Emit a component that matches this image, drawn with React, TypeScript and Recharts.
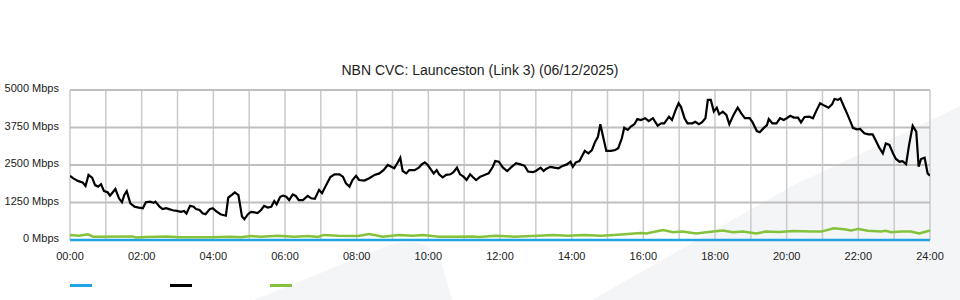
import { LineChart, Line, XAxis, YAxis, CartesianGrid } from 'recharts'

const title = 'NBN CVC: Launceston (Link 3) (06/12/2025)'

// minutes since midnight, gridline every hour, label every second hour
const hourTicks = [0, 60, 120, 180, 240, 300, 360, 420, 480, 540, 600, 660, 720, 780, 840, 900, 960, 1020, 1080, 1140, 1200, 1260, 1320, 1380, 1440]
const yTicks = [0, 1250, 2500, 3750, 5000]

// [minute, Mbps]
const downstream: [number, number][] = [
  [0, 2140], [5, 2060], [13, 1970], [21, 1920], [26, 1800], [31, 2170], [37, 2080], [42, 1830], [47, 1780], [52, 1860],
  [57, 1630], [63, 1590], [67, 1480], [76, 1700], [82, 1390], [87, 1260], [91, 1500], [95, 1630], [101, 1220], [108, 1110],
  [115, 1080], [122, 1060], [127, 1260], [134, 1280], [140, 1240], [143, 1280], [150, 1110], [155, 1030], [161, 1060], [166, 1030],
  [172, 990], [179, 970], [186, 940], [191, 970], [195, 880], [201, 1140], [207, 1110], [211, 1030], [217, 1000], [222, 890],
  [227, 860], [234, 1030], [239, 1060], [244, 970], [252, 860], [261, 810], [265, 1410], [272, 1520], [276, 1590], [282, 1500],
  [288, 780], [292, 690], [298, 860], [303, 940], [309, 920], [314, 900], [320, 1000], [325, 1140], [331, 1080], [337, 1110],
  [342, 1300], [346, 1190], [352, 1440], [357, 1480], [362, 1440], [367, 1330], [373, 1520], [378, 1470], [383, 1330], [390, 1330],
  [398, 1470], [404, 1390], [410, 1370], [417, 1670], [422, 1560], [429, 1830], [436, 2100], [443, 2190], [451, 2190], [457, 2110],
  [462, 1890], [468, 1780], [473, 2000], [479, 2140], [484, 2000], [493, 1980], [501, 2060], [510, 2170], [518, 2220], [525, 2330],
  [532, 2500], [538, 2440], [543, 2390], [548, 2560], [553, 2740], [557, 2300], [563, 2220], [568, 2330], [577, 2330], [584, 2410],
  [589, 2520], [594, 2590], [599, 2500], [605, 2330], [609, 2220], [614, 2330], [618, 2190], [624, 2090], [630, 2170], [637, 2190],
  [642, 2260], [648, 2410], [653, 2190], [659, 2110], [664, 2000], [670, 2190], [674, 2110], [680, 2000], [687, 2110], [694, 2170],
  [701, 2220], [708, 2440], [712, 2630], [718, 2610], [725, 2410], [732, 2300], [738, 2410], [747, 2560], [754, 2520], [761, 2480],
  [767, 2280], [775, 2260], [780, 2300], [788, 2410], [793, 2300], [797, 2370], [804, 2440], [811, 2410], [818, 2390], [825, 2470],
  [832, 2520], [838, 2610], [842, 2440], [847, 2590], [853, 2630], [857, 2780], [862, 2970], [868, 2890], [874, 3000], [879, 3260],
  [884, 3440], [888, 3860], [892, 3500], [898, 2970], [906, 2970], [913, 3000], [918, 3060], [924, 3390], [928, 3740], [934, 3670],
  [939, 3780], [945, 3860], [950, 4030], [956, 4000], [963, 4060], [969, 3960], [976, 4060], [984, 3810], [990, 3890], [995, 3890],
  [1003, 4110], [1008, 4000], [1014, 4330], [1019, 4560], [1023, 4440], [1029, 4060], [1034, 3890], [1042, 3890], [1047, 3940], [1053, 3860],
  [1058, 3920], [1064, 4060], [1068, 4670], [1073, 4670], [1078, 4280], [1083, 4410], [1087, 4190], [1093, 4280], [1099, 4170], [1104, 3860],
  [1111, 4170], [1118, 4410], [1124, 4220], [1130, 4060], [1138, 4060], [1143, 3920], [1150, 3630], [1155, 3590], [1161, 3720], [1167, 3830],
  [1170, 4030], [1176, 3890], [1183, 3890], [1189, 4060], [1195, 4000], [1200, 4060], [1206, 4140], [1212, 4080], [1219, 4080], [1224, 3920],
  [1230, 4100], [1238, 4110], [1244, 4060], [1249, 4280], [1256, 4560], [1263, 4480], [1270, 4410], [1276, 4520], [1280, 4700], [1286, 4670],
  [1290, 4720], [1296, 4440], [1301, 4220], [1307, 3940], [1311, 3740], [1317, 3690], [1323, 3700], [1330, 3560], [1337, 3520], [1344, 3520],
  [1350, 3280], [1355, 3080], [1361, 2890], [1366, 3220], [1372, 3170], [1378, 2890], [1383, 2700], [1389, 2610], [1394, 2630], [1400, 2530],
  [1405, 3170], [1411, 3810], [1417, 3610], [1421, 2440], [1425, 2700], [1431, 2740], [1436, 2220], [1440, 2140],
]

const upstream: [number, number][] = [
  [0, 170], [15, 145], [30, 190], [39, 110], [105, 120], [110, 80], [127, 100], [161, 120], [186, 90], [236, 90],
  [270, 110], [286, 90], [303, 130], [320, 110], [348, 145], [375, 110], [399, 135], [415, 100], [425, 170], [449, 145],
  [482, 135], [501, 200], [524, 110], [551, 170], [574, 145], [591, 170], [618, 110], [646, 110], [675, 120], [685, 100],
  [713, 145], [743, 110], [784, 145], [809, 170], [834, 145], [861, 170], [889, 145], [911, 170], [934, 200], [956, 230],
  [965, 220], [993, 330], [1010, 260], [1026, 280], [1048, 220], [1077, 280], [1093, 320], [1110, 260], [1127, 280], [1149, 220],
  [1165, 280], [1187, 270], [1211, 300], [1241, 280], [1258, 280], [1279, 390], [1296, 360], [1308, 320], [1320, 370], [1336, 310],
  [1358, 280], [1366, 310], [1375, 260], [1392, 280], [1408, 280], [1422, 220], [1437, 300], [1440, 310],
]

const overflow: [number, number][] = [
  [0, 0], [360, 0], [720, 0], [1080, 0], [1440, 0],
]

const series = [
  { name: 'Overflow', color: '#1fa3e2', width: 2.5, points: overflow },
  { name: 'Downstream', color: '#000000', width: 2.2, points: downstream },
  { name: 'Upstream', color: '#84c23b', width: 2.5, points: upstream },
]

const toRows = (pts: [number, number][]) => pts.map(([t, v]) => ({ t, v }))

const hourLabel = (t: number) => {
  if (t % 120 !== 0) return ''
  const h = t / 60
  return `${h < 10 ? '0' : ''}${h}:00`
}

const font = '"Liberation Sans", Arial, sans-serif'

const YTick = (props: any) => {
  const { x, y, payload } = props
  return (
    <text x={x - 1} y={y} dy="0.2em" textAnchor="end" fontSize={11} fill="#222" fontFamily={font}>
      {`${payload.value} Mbps`}
    </text>
  )
}

export default function App() {
  return (
    <div
      style={{
        position: 'absolute',
        left: 0,
        top: 0,
        width: 960,
        height: 300,
        overflow: 'hidden',
        background: '#ffffff',
        fontFamily: font,
      }}
    >
      {/* faint background shapes */}
      <svg width={960} height={300} style={{ position: 'absolute', left: 0, top: 0 }}>
        <path d="M592,300 L794,185 Q880,145 960,106 L960,300 Z" fill="#f4f5f7" />
        <path d="M254,300 L382,248 Q420,232 440,258 L452,300 Z" fill="#f4f5f7" />
      </svg>

      <div
        style={{
          position: 'absolute',
          left: 0,
          top: 62,
          width: 960,
          textAlign: 'center',
          fontSize: 14,
          lineHeight: '16px',
          color: '#222',
        }}
      >
        {title}
      </div>

      <div style={{ position: 'absolute', left: 0, top: 0 }}>
        <LineChart width={960} height={300} margin={{ top: 90, right: 30, bottom: 0, left: 0 }}>
          <CartesianGrid horizontal={false} stroke="#cacaca" strokeWidth={1.5} />
          <CartesianGrid vertical={false} stroke="#bfbfbf" strokeWidth={2} />
          <XAxis
            type="number"
            dataKey="t"
            domain={[0, 1440]}
            ticks={hourTicks}
            interval={0}
            tickFormatter={hourLabel}
            axisLine={false}
            tickLine={false}
            tickMargin={6}
            height={60}
            tick={{ fontSize: 11, fill: '#222', fontFamily: font }}
            allowDataOverflow
          />
          <YAxis
            type="number"
            domain={[0, 5000]}
            ticks={yTicks}
            interval={0}
            axisLine={false}
            tickLine={false}
            tickMargin={4}
            width={70}
            tick={<YTick />}
          />
          {series.map((s) => (
            <Line
              key={s.name}
              name={s.name}
              data={toRows(s.points)}
              dataKey="v"
              type="linear"
              stroke={s.color}
              strokeWidth={s.width}
              dot={false}
              activeDot={false}
              isAnimationActive={false}
            />
          ))}
        </LineChart>
      </div>

      {/* legend: swatches only */}
      {series.map((s, i) => (
        <div
          key={s.name}
          style={{
            position: 'absolute',
            left: 70 + i * 100,
            top: 284,
            width: 22,
            height: 3,
            background: s.color,
          }}
        />
      ))}
    </div>
  )
}
